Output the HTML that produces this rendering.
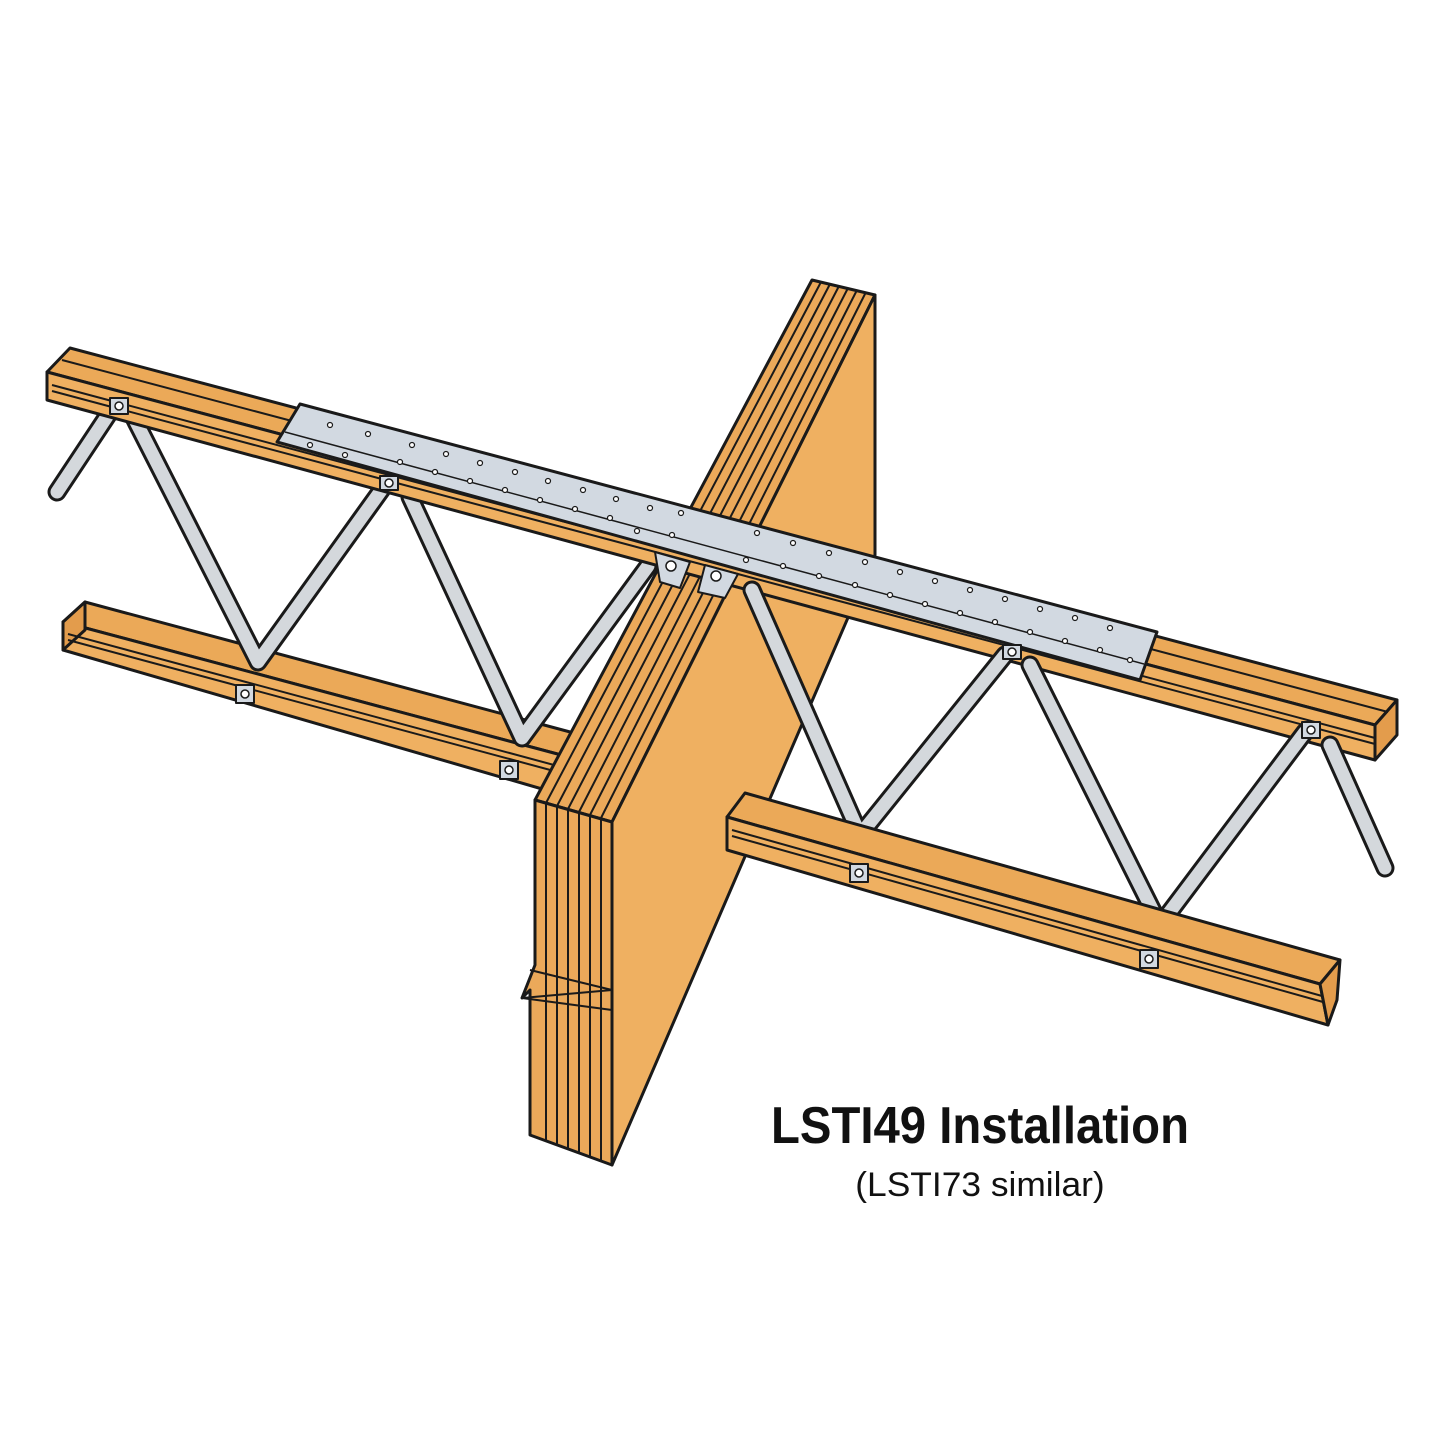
<!DOCTYPE html>
<html><head><meta charset="utf-8"><style>
html,body{margin:0;padding:0;background:#fff;width:1445px;height:1445px;overflow:hidden}
</style></head><body>
<svg width="1445" height="1445" viewBox="0 0 1445 1445" xmlns="http://www.w3.org/2000/svg">
<g stroke="#1a1a1a" stroke-width="3" stroke-linejoin="round">
<polygon points="85,602 600,740 580,760 63,622" fill="#eba958"/>
<polygon points="63,622 580,760 580,800 63,650" fill="#efb061"/>
<polygon points="63,622 85,602 85,630 63,650" fill="#e39c4c"/>
<line x1="68" y1="634" x2="580" y2="772" stroke-width="2"/>
<line x1="68" y1="640" x2="580" y2="778" stroke-width="2"/>
<g stroke-linecap="round">
<g stroke="#1a1a1a" stroke-width="19" fill="none">
<polyline points="57,492 110,412"/>
<polyline points="130,410 258,662 385,485"/>
<polyline points="410,497 522,738 648,566"/>
</g>
<g stroke="#d4d8dc" stroke-width="13" fill="none">
<polyline points="57,492 110,412"/>
<polyline points="130,410 258,662 385,485"/>
<polyline points="410,497 522,738 648,566"/>
</g>
</g>
<polygon points="812,280 875,295 612,822 535,800" fill="#eba95a"/>
<g stroke-width="2">
<line x1="821" y1="282" x2="546" y2="803"/><line x1="830" y1="284" x2="557" y2="806"/>
<line x1="839" y1="286" x2="568" y2="809"/><line x1="848" y1="288" x2="579" y2="812"/>
<line x1="857" y1="290" x2="590" y2="815"/><line x1="866" y1="292" x2="601" y2="818"/>
</g>
<polygon points="875,295 875,555 612,1165 612,822" fill="#efb061"/>
<polygon points="535,800 612,822 612,1165 530,1135 530,990 522,998 535,965" fill="#eba95a"/>
<g stroke-width="2">
<line x1="546" y1="803" x2="546" y2="1140"/><line x1="557" y1="806" x2="557" y2="1144"/>
<line x1="568" y1="809" x2="568" y2="1148"/><line x1="579" y1="812" x2="579" y2="1152"/>
<line x1="590" y1="815" x2="590" y2="1156"/><line x1="601" y1="818" x2="601" y2="1160"/>
</g>
<polyline points="530,970 612,990 522,998 612,1010" fill="none" stroke-width="2"/>
<polygon points="70,348 1397,700 1375,725 47,372" fill="#eba958"/>
<polygon points="47,372 1375,725 1375,760 47,400" fill="#efb061"/>
<polygon points="1375,725 1397,700 1397,735 1375,760" fill="#e39c4c"/>
<line x1="62" y1="360" x2="1388" y2="712" stroke-width="2"/>
<line x1="52" y1="385" x2="1375" y2="738" stroke-width="2"/>
<line x1="52" y1="391" x2="1375" y2="744" stroke-width="2"/>
<g stroke-linecap="round">
<g stroke="#1a1a1a" stroke-width="19" fill="none">
<polyline points="752,590 860,835 1005,655"/>
<polyline points="1030,665 1160,925 1305,732"/>
<polyline points="1330,745 1385,868"/>
</g>
<g stroke="#d4d8dc" stroke-width="13" fill="none">
<polyline points="752,590 860,835 1005,655"/>
<polyline points="1030,665 1160,925 1305,732"/>
<polyline points="1330,745 1385,868"/>
</g>
</g>
<polygon points="745,793 1340,960 1320,984 727,817" fill="#eba958"/>
<polygon points="727,817 1320,984 1328,1025 727,850" fill="#efb061"/>
<polygon points="1320,984 1340,960 1337,1000 1328,1025" fill="#e39c4c"/>
<line x1="732" y1="830" x2="1322" y2="996" stroke-width="2"/>
<line x1="732" y1="836" x2="1323" y2="1002" stroke-width="2"/>
<polygon points="300,404 1157,632 1140,680 277,442" fill="#d2d9e1"/>
<line x1="285" y1="432" x2="1144" y2="664" stroke-width="1.5"/>
<polygon points="655,552 690,562 680,588 660,582" fill="#d2d9e1" stroke-width="2"/>
<polygon points="705,565 738,574 725,598 698,592" fill="#d2d9e1" stroke-width="2"/>
<g fill="#fff" stroke-width="1.5">
<circle cx="671" cy="566" r="5"/><circle cx="716" cy="576" r="5"/>
</g>
<g fill="#fff" stroke-width="1.2">
<circle cx="330" cy="425" r="2.5"/><circle cx="368" cy="434" r="2.5"/><circle cx="412" cy="445" r="2.5"/><circle cx="446" cy="454" r="2.5"/>
<circle cx="480" cy="463" r="2.5"/><circle cx="515" cy="472" r="2.5"/><circle cx="548" cy="481" r="2.5"/><circle cx="583" cy="490" r="2.5"/>
<circle cx="616" cy="499" r="2.5"/><circle cx="650" cy="508" r="2.5"/><circle cx="681" cy="513" r="2.5"/><circle cx="757" cy="533" r="2.5"/>
<circle cx="793" cy="543" r="2.5"/><circle cx="829" cy="553" r="2.5"/><circle cx="865" cy="562" r="2.5"/><circle cx="900" cy="572" r="2.5"/>
<circle cx="935" cy="581" r="2.5"/><circle cx="970" cy="590" r="2.5"/><circle cx="1005" cy="599" r="2.5"/><circle cx="1040" cy="609" r="2.5"/>
<circle cx="1075" cy="618" r="2.5"/><circle cx="1110" cy="628" r="2.5"/>
<circle cx="310" cy="445" r="2.5"/><circle cx="345" cy="455" r="2.5"/><circle cx="400" cy="462" r="2.5"/><circle cx="435" cy="472" r="2.5"/>
<circle cx="470" cy="481" r="2.5"/><circle cx="505" cy="490" r="2.5"/><circle cx="540" cy="500" r="2.5"/><circle cx="575" cy="509" r="2.5"/>
<circle cx="610" cy="518" r="2.5"/><circle cx="637" cy="531" r="2.5"/><circle cx="672" cy="535" r="2.5"/><circle cx="746" cy="560" r="2.5"/>
<circle cx="783" cy="566" r="2.5"/><circle cx="819" cy="576" r="2.5"/><circle cx="855" cy="585" r="2.5"/><circle cx="890" cy="595" r="2.5"/>
<circle cx="925" cy="604" r="2.5"/><circle cx="960" cy="613" r="2.5"/><circle cx="995" cy="622" r="2.5"/><circle cx="1030" cy="632" r="2.5"/>
<circle cx="1065" cy="641" r="2.5"/><circle cx="1100" cy="650" r="2.5"/><circle cx="1130" cy="660" r="2.5"/>
</g>
<g fill="#d2d9e1" stroke-width="2">
<rect x="110" y="398" width="18" height="16"/><rect x="380" y="476" width="18" height="14"/>
<rect x="1003" y="645" width="18" height="14"/><rect x="1302" y="722" width="18" height="16"/>
<rect x="236" y="685" width="18" height="18"/><rect x="500" y="761" width="18" height="18"/>
<rect x="850" y="864" width="18" height="18"/><rect x="1140" y="950" width="18" height="18"/>
</g>
<g fill="#fff" stroke-width="1.5">
<circle cx="119" cy="406" r="4"/><circle cx="389" cy="483" r="4"/><circle cx="1012" cy="652" r="4"/><circle cx="1311" cy="730" r="4"/>
<circle cx="245" cy="694" r="4"/><circle cx="509" cy="770" r="4"/><circle cx="859" cy="873" r="4"/><circle cx="1149" cy="959" r="4"/>
</g>
</g>
<text x="980" y="1143" text-anchor="middle" font-family="Liberation Sans, sans-serif" font-weight="bold" font-size="52" transform="translate(980,0) scale(0.91,1) translate(-980,0)" fill="#111">LSTI49 Installation</text>
<text x="980" y="1196" text-anchor="middle" font-family="Liberation Sans, sans-serif" font-size="34" transform="translate(980,0) scale(1.04,1) translate(-980,0)" fill="#111">(LSTI73 similar)</text>
</svg>
</body></html>
